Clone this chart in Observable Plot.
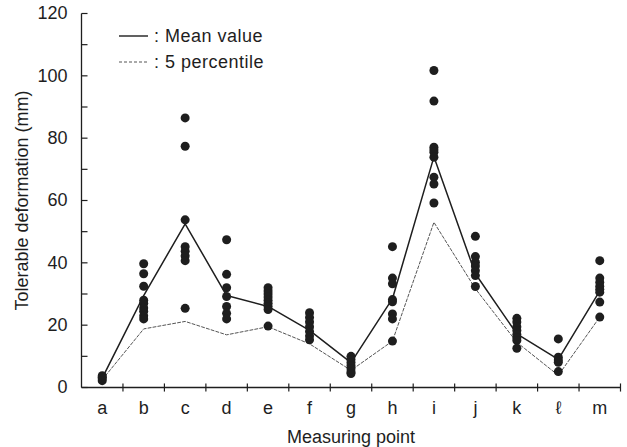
<!DOCTYPE html>
<html>
<head>
<meta charset="utf-8">
<script src="https://cdn.jsdelivr.net/npm/d3@7"></script>
<script src="https://cdn.jsdelivr.net/npm/@observablehq/plot@0.6"></script>
<style>
  html, body { margin: 0; padding: 0; background: #fff; }
</style>
</head>
<body>
<div id="chart"></div>
<script>
const categories = ["a","b","c","d","e","f","g","h","i","j","k","ℓ","m"];
const meanValues = [3, 29.5, 52.5, 29.5, 26, 18.3, 8, 28.5, 74, 36.5, 17.2, 9, 31];
const p5Values   = [2.5, 18.8, 21.2, 16.9, 19.5, 14, 5.5, 14.9, 53, 31.7, 14.5, 3.9, 22.6];
const measured = [
  [2.2, 2.8, 3.3, 3.8],
  [39.7, 36.5, 32.5, 28, 27, 25.5, 24.5, 23, 22],
  [86.5, 77.4, 53.8, 45.2, 43.7, 42.2, 40.7, 25.4],
  [47.4, 36.3, 32, 29.2, 26, 23.8, 22],
  [32, 31, 30, 29, 28, 27, 26, 25, 19.7],
  [24, 22.5, 21, 19.5, 18, 16.5, 15.3],
  [10, 9, 8, 7, 6, 5, 4.5],
  [45.2, 35.1, 33.3, 28.2, 27.5, 23.6, 22, 14.9],
  [101.7, 91.9, 77.1, 76.3, 75.5, 73.9, 67.5, 65.3, 59.2],
  [48.5, 42, 40.2, 39, 37.5, 35.9, 32.4],
  [22.2, 21, 19.5, 18.3, 17, 16, 15.1, 12.6],
  [15.6, 9.7, 8.8, 8.1, 5.1],
  [40.7, 35.1, 33.8, 32.5, 31.5, 30.6, 27.4, 22.6]
];
const yTickLabels = [0, 20, 40, 60, 80, 100, 120];
const yMinorTicks = [0, 10, 20, 30, 40, 50, 60, 70, 80, 90, 100, 110, 120];
const legendLabels = [": Mean value", ": 5 percentile"];

const meanRows = categories.map((c, i) => ({i, v: meanValues[i]}));
const p5Rows = categories.map((c, i) => ({i, v: p5Values[i]}));
const pointRows = measured.flatMap((vals, i) => vals.map(v => ({i, v})));
const boundaries = d3.range(categories.length).map(i => i + 0.5);
const xMin = -0.5, xMax = categories.length - 0.5;

const font = "'Liberation Sans', Arial, Helvetica, sans-serif";
const ink = "#1e1e1e";

const legend = () => {
  const g = d3.create("svg:g").attr("font-family", font).attr("font-size", 18)
    .attr("letter-spacing", "0.5px").attr("fill", ink).attr("text-anchor", "start");
  g.append("path").attr("d", "M119,36H148").attr("stroke", ink).attr("stroke-width", 1.4);
  g.append("path").attr("d", "M119,62H148").attr("stroke", "#555").attr("stroke-width", 1).attr("stroke-dasharray", "3,2");
  g.append("text").attr("x", 154).attr("y", 36).attr("dy", "0.35em").text(legendLabels[0]);
  g.append("text").attr("x", 154).attr("y", 62).attr("dy", "0.35em").text(legendLabels[1]);
  return g.node();
};

const chart = Plot.plot({
  width: 627,
  height: 447,
  marginLeft: 81,
  marginRight: 7,
  marginTop: 13,
  marginBottom: 60,
  style: {fontFamily: font, fontSize: "18px", color: ink, background: "#fff", overflow: "visible"},
  x: {domain: [xMin, xMax]},
  y: {domain: [0, 120]},
  marks: [
    Plot.axisY({ticks: yTickLabels, tickSize: 0, tickPadding: 14, label: null, fontSize: 18}),
    Plot.axisX({ticks: d3.range(categories.length), tickSize: 0, tickPadding: 14, tickFormat: i => categories[i], label: null, fontSize: 18}),
    Plot.link([0], {x1: xMin, x2: xMin, y1: 0, y2: 120, stroke: ink, strokeWidth: 1.3}),
    Plot.link([0], {x1: xMin, x2: xMax, y1: 0, y2: 0, stroke: ink, strokeWidth: 1.3}),
    Plot.link(yMinorTicks, {x1: xMin, x2: xMin + 0.145, y1: d => d, y2: d => d, stroke: ink, strokeWidth: 1.2}),
    Plot.link(boundaries, {x1: d => d, x2: d => d, y1: -1.3, y2: 1.3, stroke: ink, strokeWidth: 1.2}),
    Plot.line(p5Rows, {x: "i", y: "v", stroke: "#555", strokeWidth: 1, strokeDasharray: "3,2"}),
    Plot.line(meanRows, {x: "i", y: "v", stroke: ink, strokeWidth: 1.5}),
    Plot.dot(pointRows, {x: "i", y: "v", r: 4.5, fill: ink, stroke: "none"}),
    Plot.text(["Tolerable deformation (mm)"], {text: d => d, frameAnchor: "left", textAnchor: "middle", dx: -59, rotate: -90, fontSize: 18, fill: ink}),
    Plot.text(["Measuring point"], {text: d => d, frameAnchor: "bottom", dy: 50, lineAnchor: "middle", fontSize: 18, fill: ink, style: "letter-spacing:0.6px"}),
    legend
  ]
});
document.getElementById("chart").appendChild(chart);
</script>
</body>
</html>
